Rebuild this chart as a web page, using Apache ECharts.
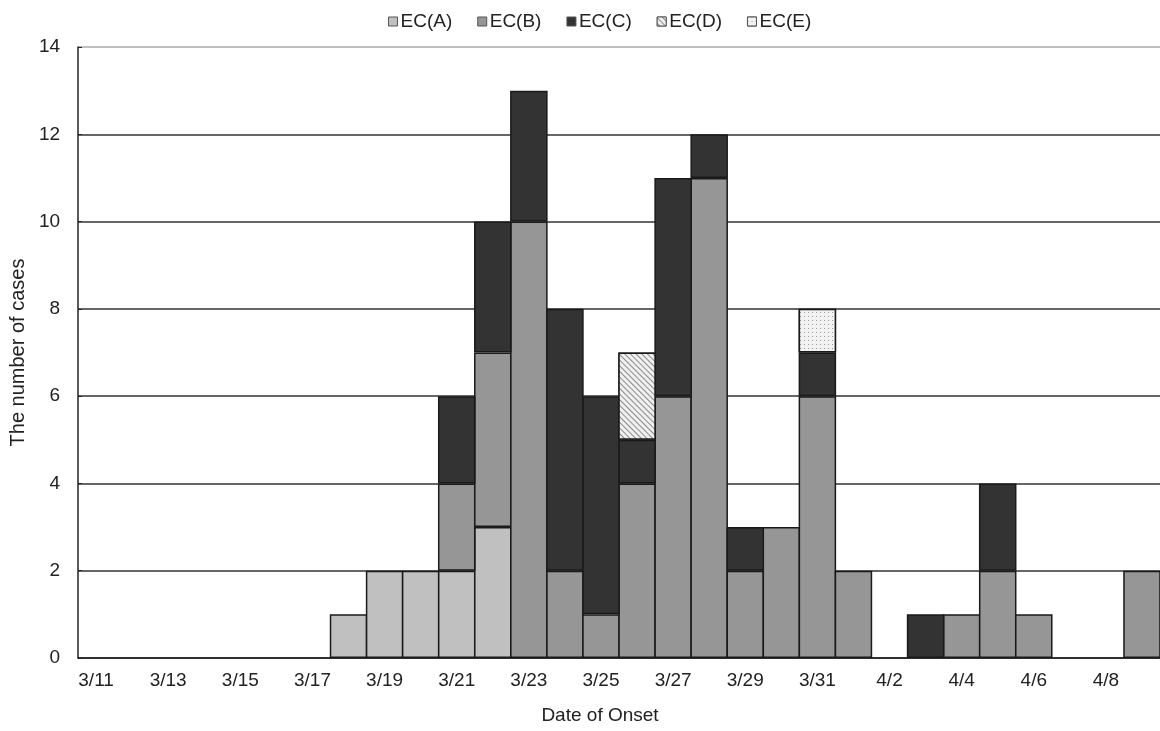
<!DOCTYPE html>
<html>
<head>
<meta charset="utf-8">
<script src="https://cdn.jsdelivr.net/npm/echarts@6/dist/echarts.min.js"></script>
<style>
html,body{margin:0;padding:0;background:#fff;overflow:hidden;}
#chart{width:1160px;height:731px;}
</style>
</head>
<body>
<div id="chart"></div>
<script>
const categories = ['3/11','3/12','3/13','3/14','3/15','3/16','3/17','3/18','3/19','3/20',
  '3/21','3/22','3/23','3/24','3/25','3/26','3/27','3/28','3/29','3/30',
  '3/31','4/1','4/2','4/3','4/4','4/5','4/6','4/7','4/8','4/9'];
const ecA = [0,0,0,0,0,0,0,1,2,2, 2,3,0,0,0,0,0,0,0,0, 0,0,0,0,0,0,0,0,0,0];
const ecB = [0,0,0,0,0,0,0,0,0,0, 2,4,10,2,1,4,6,11,2,3, 6,2,0,0,1,2,1,0,0,2];
const ecC = [0,0,0,0,0,0,0,0,0,0, 2,3,3,6,5,1,5,1,1,0, 1,0,0,1,0,2,0,0,0,0];
const ecD = [0,0,0,0,0,0,0,0,0,0, 0,0,0,0,0,2,0,0,0,0, 0,0,0,0,0,0,0,0,0,0];
const ecE = [0,0,0,0,0,0,0,0,0,0, 0,0,0,0,0,0,0,0,0,0, 1,0,0,0,0,0,0,0,0,0];
const yTicks = [0,2,4,6,8,10,12,14];

const font = '"Liberation Sans", Arial, sans-serif';
const border = '#1a1a1a';
function mk(name, data, style) {
  return {
    name, type: 'bar', stack: 'total', data: data.map(v => v === 0 ? '-' : v),
    barWidth: '104%',
    itemStyle: Object.assign({ borderColor: border, borderWidth: 1.5 }, style),
    emphasis: { disabled: true }
  };
}
const chart = echarts.init(document.getElementById('chart'), null, { renderer: 'canvas' });
chart.setOption({
  animation: false,
  backgroundColor: '#fff',
  legend: {
    top: 7, left: 383, itemWidth: 9, itemHeight: 9, itemGap: 25,
    icon: 'rect',
    textStyle: { fontFamily: font, fontSize: 19, color: '#222', padding: [0,0,0,-2] },
    itemStyle: { borderColor: '#555', borderWidth: 1 }
  },
  grid: { left: 76, right: -4, top: 47, bottom: 73 },
  xAxis: {
    type: 'category', data: categories,
    name: 'Date of Onset', nameLocation: 'middle', nameGap: 48,
    nameTextStyle: { fontFamily: font, fontSize: 19, color: '#222', padding: [0, 38, 0, 0] },
    axisLine: { lineStyle: { color: '#222', width: 1.5 } },
    axisTick: { inside: true, length: 5, interval: 1, lineStyle: { color: '#222', width: 1.5 } },
    axisLabel: { interval: 1, fontFamily: font, fontSize: 19, color: '#222', margin: 13 }
  },
  yAxis: {
    type: 'value', min: 0, max: 14, interval: 2,
    name: 'The number of cases', nameLocation: 'middle', nameGap: 43, nameRotate: 90,
    nameTextStyle: { fontFamily: font, fontSize: 20, color: '#222' },
    axisLine: { show: true, lineStyle: { color: '#222', width: 1.5 } },
    axisTick: { show: true, inside: true, length: 4, lineStyle: { color: '#222' } },
    axisLabel: { fontFamily: font, fontSize: 19, color: '#222', margin: 18,
      formatter: v => yTicks.includes(v) ? String(v) : '' },
    splitLine: { show: true, lineStyle: { color: ['#222','#333','#333','#333','#333','#333','#333','#aaa'], width: 1.5 } }
  },
  series: [
    mk('EC(A)', ecA, { color: '#c0c0c0' }),
    mk('EC(B)', ecB, { color: '#969696' }),
    mk('EC(C)', ecC, { color: '#333333' }),
    mk('EC(D)', ecD, { color: '#eeeeee', decal: { symbol: 'rect', symbolSize: 1, color: '#8a8a8a', backgroundColor: '#f0f0f0', dashArrayX: [1, 0], dashArrayY: [1, 2.5], rotation: Math.PI / 4 } }),
    mk('EC(E)', ecE, { color: '#f0f0f0', decal: { symbol: 'rect', symbolSize: 1, color: '#9a9a9a', backgroundColor: '#f2f2f2', dashArrayX: [1, 3], dashArrayY: [1, 3], rotation: 0 } })
  ]
});
</script>
</body>
</html>
